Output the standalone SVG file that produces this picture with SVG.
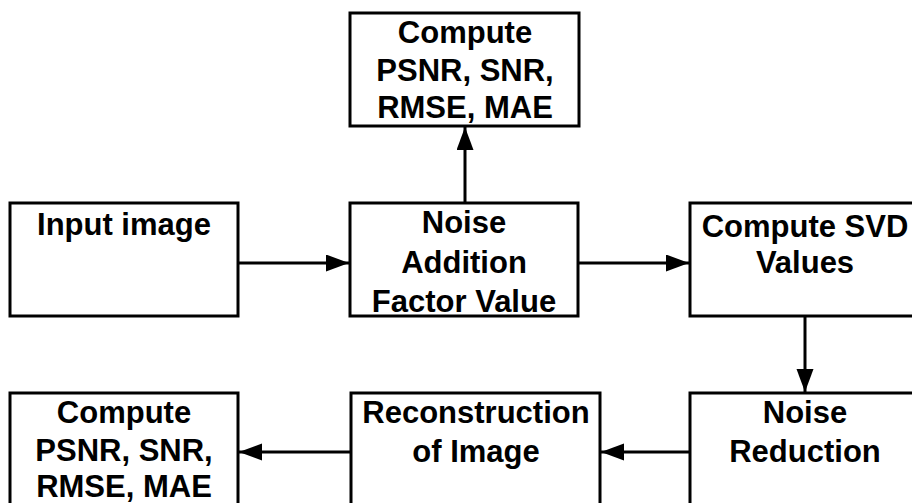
<svg xmlns="http://www.w3.org/2000/svg" width="912" height="503" viewBox="0 0 912 503">
<style>
.box{fill:#fff;stroke:#000;stroke-width:3}
.t{font-family:"Liberation Sans",Arial,sans-serif;font-weight:bold;font-size:31px;fill:#000;text-anchor:middle}
.c{stroke:#000;stroke-width:3;fill:none;marker-end:url(#ah)}
</style>
<defs>
<marker id="ah" markerUnits="userSpaceOnUse" markerWidth="24" markerHeight="18" refX="23" refY="8.5" orient="auto">
<path d="M0,0 L23,8.5 L0,17 Z" fill="#000"/>
</marker>
</defs>
<rect width="912" height="503" fill="#fff"/>
<g id="connectors">
<line class="c" x1="465" y1="203" x2="465" y2="127"/>
<line class="c" x1="238" y1="263" x2="349" y2="263"/>
<line class="c" x1="578" y1="263" x2="689" y2="263"/>
<line class="c" x1="805" y1="316" x2="805" y2="392"/>
<line class="c" x1="690" y1="452" x2="601" y2="452"/>
<line class="c" x1="351" y1="452" x2="239" y2="452"/>
</g>
<g id="metrics-top">
<rect class="box" x="350" y="13" width="229" height="113"/>
<text class="t" x="465" y="43">Compute</text>
<text class="t" x="465" y="81">PSNR, SNR,</text>
<text class="t" x="465" y="118">RMSE, MAE</text>
</g>
<g id="input">
<rect class="box" x="10" y="203" width="228" height="113"/>
<text class="t" x="124" y="235">Input image</text>
</g>
<g id="noise-addition">
<rect class="box" x="350" y="203" width="228" height="113"/>
<text class="t" x="464" y="233">Noise</text>
<text class="t" x="464" y="273">Addition</text>
<text class="t" x="464" y="312">Factor Value</text>
</g>
<g id="svd">
<rect class="box" x="690" y="203" width="240" height="113"/>
<text class="t" x="805" y="237">Compute SVD</text>
<text class="t" x="805" y="273">Values</text>
</g>
<g id="noise-reduction">
<rect class="box" x="690" y="393" width="240" height="130"/>
<text class="t" x="805" y="423">Noise</text>
<text class="t" x="805" y="462">Reduction</text>
</g>
<g id="reconstruction">
<rect class="box" x="351" y="393" width="249" height="130"/>
<text class="t" x="476" y="423">Reconstruction</text>
<text class="t" x="476" y="462">of Image</text>
</g>
<g id="metrics-bottom">
<rect class="box" x="10" y="393" width="228" height="130"/>
<text class="t" x="124" y="423">Compute</text>
<text class="t" x="124" y="461">PSNR, SNR,</text>
<text class="t" x="124" y="497">RMSE, MAE</text>
</g>
</svg>
